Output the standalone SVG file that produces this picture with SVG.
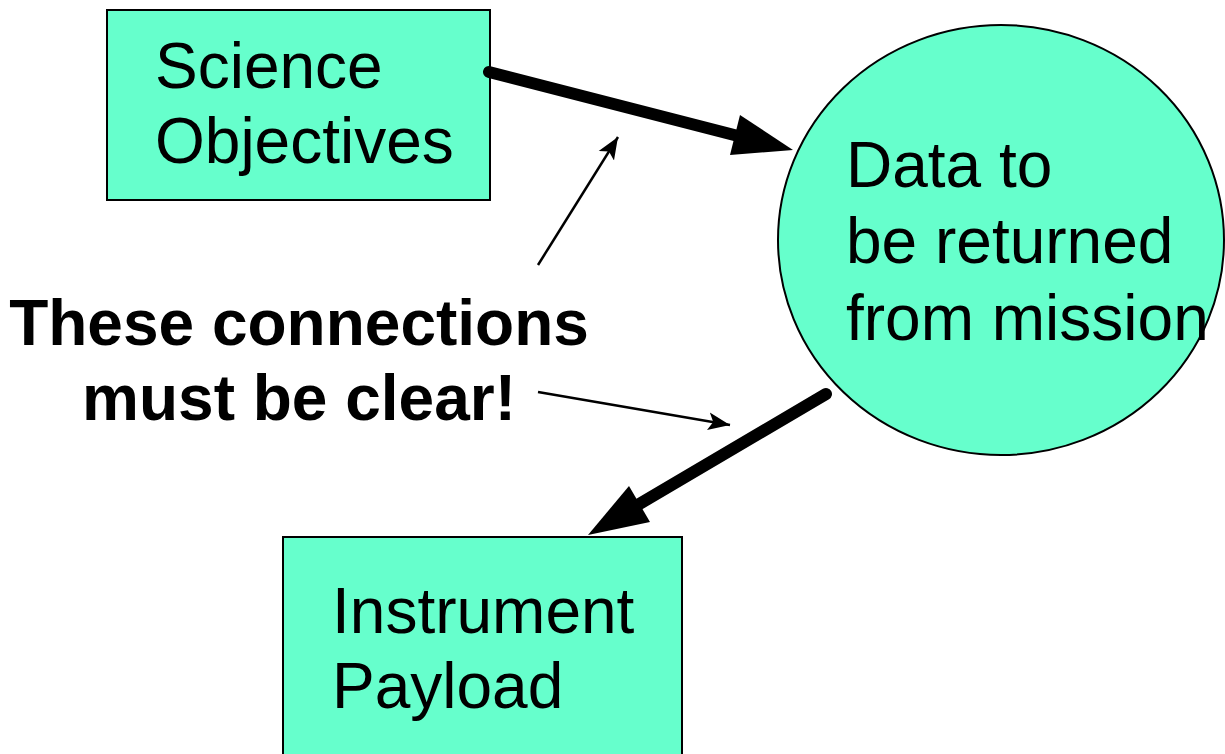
<svg xmlns="http://www.w3.org/2000/svg" width="1225" height="754" viewBox="0 0 1225 754">
<style>
.node{fill:#66FFCC;stroke:#000;stroke-width:2}
.lbl{font-family:"Liberation Sans",Arial,sans-serif;font-size:64px;fill:#000}
.note{font-family:"Liberation Sans",Arial,sans-serif;font-size:64px;font-weight:bold;fill:#000}
.thick{stroke:#000;stroke-width:12;stroke-linecap:round;fill:none}
.thin{stroke:#000;stroke-width:2.5;fill:none}
</style>
<defs>
<marker id="ah" markerUnits="userSpaceOnUse" markerWidth="24" markerHeight="20" refX="22" refY="10" orient="auto">
<path d="M0,1 L22,10 L0,19 L5,10 Z" fill="#000"/>
</marker>
</defs>
<rect width="1225" height="754" fill="#fff"/>
<g id="science">
<rect class="node" x="107" y="10" width="383" height="190"/>
<text class="lbl" x="155" y="88">Science</text>
<text class="lbl" x="155" y="163">Objectives</text>
</g>
<g id="data">
<ellipse class="node" cx="1001" cy="240" rx="223" ry="215"/>
<text class="lbl" x="846" y="187">Data to</text>
<text class="lbl" x="846" y="263">be returned</text>
<text class="lbl" x="846" y="340">from mission</text>
</g>
<g id="payload">
<rect class="node" x="283" y="537" width="399" height="230"/>
<text class="lbl" x="332" y="633">Instrument</text>
<text class="lbl" x="332" y="708">Payload</text>
</g>
<g id="note">
<text class="note" x="299" y="345" text-anchor="middle">These connections</text>
<text class="note" x="299" y="420" text-anchor="middle">must be clear!</text>
</g>
<g id="connectors">
<line class="thick" x1="489" y1="72" x2="742" y2="137"/>
<polygon points="793,150 730,155 740,115" fill="#000"/>
<line class="thick" x1="826" y1="394" x2="636" y2="506"/>
<polygon points="588,535 650,522 629,486" fill="#000"/>
<line class="thin" x1="538" y1="265" x2="618" y2="137" marker-end="url(#ah)"/>
<line class="thin" x1="538" y1="392" x2="730" y2="425" marker-end="url(#ah)"/>
</g>
</svg>
